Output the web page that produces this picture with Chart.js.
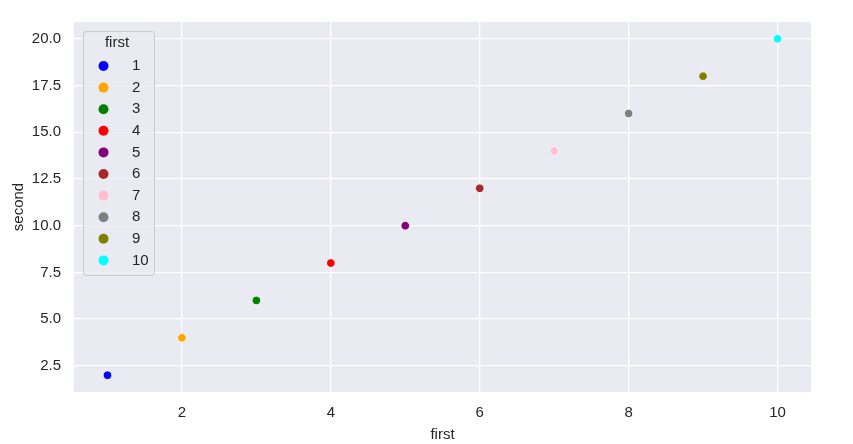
<!DOCTYPE html>
<html>
<head>
<meta charset="utf-8">
<script src="https://cdn.jsdelivr.net/npm/chart.js@4"></script>
<style>
  html, body { margin: 0; padding: 0; background: #fff; }
  #wrap { width: 853px; height: 444px; }
</style>
</head>
<body>
<div id="wrap"><canvas id="c" width="853" height="444"></canvas></div>
<script>
const FIRST = [1, 2, 3, 4, 5, 6, 7, 8, 9, 10];
const SECOND = [2, 4, 6, 8, 10, 12, 14, 16, 18, 20];
const COLORS = ["blue", "orange", "green", "red", "purple", "brown", "pink", "gray", "olive", "cyan"];
const X_TICKS = [2, 4, 6, 8, 10];
const Y_TICKS = [2.5, 5, 7.5, 10, 12.5, 15, 17.5, 20];

const FONT = "'Liberation Sans', Arial, sans-serif";
const TEXT = "#262626";

const bgPlugin = {
  id: "bg",
  beforeDraw(chart) {
    const { ctx, chartArea: a } = chart;
    ctx.save();
    ctx.fillStyle = "#EAEAF2";
    ctx.fillRect(a.left, a.top, a.right - a.left, a.bottom - a.top);
    ctx.restore();
  },
};

// legend box drawn inside the plot, top-left like seaborn
const legendPlugin = {
  id: "innerLegend",
  afterDraw(chart) {
    const { ctx } = chart;
    ctx.save();
    ctx.fillStyle = "rgba(234,234,242,0.8)";
    ctx.strokeStyle = "#cccccc";
    ctx.lineWidth = 1;
    const x0 = 83, y0 = 31, w = 71, h = 244, r = 3;
    ctx.beginPath();
    ctx.roundRect(x0 + 0.5, y0 + 0.5, w, h, r);
    ctx.fill();
    ctx.stroke();
    ctx.fillStyle = TEXT;
    ctx.font = "15px " + FONT;
    ctx.textAlign = "center";
    ctx.textBaseline = "middle";
    ctx.fillText("first", 117, 43);
    ctx.textAlign = "left";
    FIRST.forEach((v, i) => {
      const y = 66 + i * 21.6;
      ctx.beginPath();
      ctx.arc(103.5, y, 5, 0, Math.PI * 2);
      ctx.fillStyle = COLORS[i];
      ctx.fill();
      ctx.fillStyle = TEXT;
      ctx.fillText(String(v), 132, y);
    });
    ctx.restore();
  },
};

new Chart(document.getElementById("c"), {
  type: "scatter",
  data: {
    datasets: [
      {
        label: "first",
        data: FIRST.map((x, i) => ({ x, y: SECOND[i] })),
        backgroundColor: COLORS,
        borderColor: "#ffffff",
        borderWidth: 0.8,
        pointRadius: 4.3,
        pointHoverRadius: 4.3,
      },
    ],
  },
  plugins: [bgPlugin, legendPlugin],
  options: {
    responsive: false,
    animation: false,
    layout: { padding: { left: 0, top: 22, right: 42, bottom: 0 } },
    scales: {
      x: {
        type: "linear",
        min: 0.55,
        max: 10.45,
        afterBuildTicks: (s) => { s.ticks = X_TICKS.map((v) => ({ value: v })); },
        afterFit: (s) => { s.height = 52; },
        border: { display: false },
        grid: { color: "#ffffff", lineWidth: 1.3, drawTicks: false },
        ticks: { color: TEXT, font: { family: FONT, size: 15 }, padding: 12 },
        title: { display: true, text: "first", color: TEXT, font: { family: FONT, size: 15 }, padding: { top: 0, bottom: 0 } },
      },
      y: {
        type: "linear",
        min: 1.1,
        max: 20.9,
        afterBuildTicks: (s) => { s.ticks = Y_TICKS.map((v) => ({ value: v })); },
        afterFit: (s) => { s.width = 74; },
        border: { display: false },
        grid: { color: "#ffffff", lineWidth: 1.3, drawTicks: false },
        ticks: { color: TEXT, font: { family: FONT, size: 15 }, padding: 13, callback: (v) => Number(v).toFixed(1) },
        title: { display: true, text: "second", color: TEXT, font: { family: FONT, size: 15 }, padding: { top: 10, bottom: 0 } },
      },
    },
    plugins: {
      legend: { display: false },
      tooltip: { enabled: false },
    },
  },
});
</script>
</body>
</html>
